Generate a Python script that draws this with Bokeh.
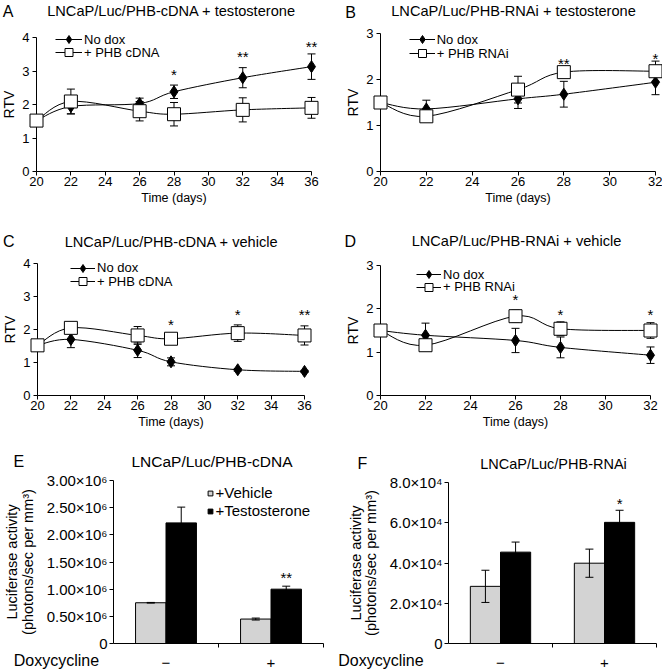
from bokeh.plotting import figure
from bokeh.models import (Range1d, FixedTicker, LinearAxis, Whisker, TeeHead,
                          ColumnDataSource, Label, Legend, LegendItem)
from bokeh.layouts import column, row
from bokeh.embed import file_html
from bokeh.resources import INLINE

FONT = "Liberation Sans"

# ---------------- data ----------------
# Panel A: LNCaP/Luc/PHB-cDNA + testosterone
a_days = [20, 22, 26, 28, 32, 36]
a_nodox = [1.52, 1.94, 2.03, 2.38, 2.80, 3.13]
a_nodox_err = [0, 0.22, 0.16, 0.20, 0.30, 0.38]
a_phb = [1.52, 2.09, 1.80, 1.71, 1.84, 1.90]
a_phb_err = [0, 0.37, 0.29, 0.35, 0.36, 0.31]
a_sig_days = [28, 32, 36]
a_sig_y = [2.98, 3.53, 3.82]
a_sig = ["*", "**", "**"]

# Panel B: LNCaP/Luc/PHB-RNAi + testosterone
b_days = [20, 22, 26, 28, 32]
b_nodox = [1.50, 1.36, 1.58, 1.68, 1.94]
b_nodox_err = [0, 0.19, 0.21, 0.28, 0.27]
b_phb = [1.50, 1.20, 1.78, 2.16, 2.18]
b_phb_err = [0, 0.10, 0.29, 0.12, 0.22]
b_sig_days = [28, 32]
b_sig_y = [2.42, 2.53]
b_sig = ["**", "*"]

# Panel C: LNCaP/Luc/PHB-cDNA + vehicle
c_days = [20, 22, 26, 28, 32, 36]
c_nodox = [1.52, 1.70, 1.37, 1.02, 0.78, 0.73]
c_nodox_err = [0, 0.25, 0.22, 0.12, 0.04, 0.03]
c_phb = [1.52, 2.05, 1.82, 1.72, 1.89, 1.82]
c_phb_err = [0, 0.08, 0.27, 0.12, 0.25, 0.29]
c_sig_days = [28, 32, 36]
c_sig_y = [2.24, 2.55, 2.55]
c_sig = ["*", "*", "**"]

# Panel D: LNCaP/Luc/PHB-RNAi + vehicle
d_days = [20, 22, 26, 28, 32]
d_nodox = [1.50, 1.39, 1.27, 1.11, 0.93]
d_nodox_err = [0, 0.28, 0.28, 0.24, 0.19]
d_phb = [1.50, 1.16, 1.83, 1.54, 1.50]
d_phb_err = [0, 0.05, 0.14, 0.16, 0.18]
d_sig_days = [26, 28, 32]
d_sig_y = [2.29, 1.93, 1.93]
d_sig = ["*", "*", "*"]

ticks_36 = [20, 22, 24, 26, 28, 30, 32, 34, 36]
ticks_32 = [20, 22, 24, 26, 28, 30, 32]
rtv_ticks_4 = [0, 1, 2, 3, 4]
rtv_ticks_3 = [0, 1, 2, 3]

# Panels E/F: luciferase activity
dox_levels = ["\u2212", "+"]
e_vehicle = [0.75e6, 0.45e6]
e_vehicle_err = [0.006e6, 0.018e6]
e_testo = [2.22e6, 1.00e6]
e_testo_err = [0.29e6, 0.055e6]
e_sig_y = [None, 1.27e6]
e_sig = ["", "**"]
e_yticks = [0, 500000, 1000000, 1500000, 2000000, 2500000, 3000000]
e_ylabels = ["0", "0.50\u00d710\u2076", "1.00\u00d710\u2076", "1.50\u00d710\u2076",
             "2.00\u00d710\u2076", "2.50\u00d710\u2076", "3.00\u00d710\u2076"]

f_vehicle = [2.84e4, 3.99e4]
f_vehicle_err = [0.8e4, 0.7e4]
f_testo = [4.54e4, 6.02e4]
f_testo_err = [0.5e4, 0.6e4]
f_sig_y = [None, 7.1e4]
f_sig = ["", "*"]
f_yticks = [0, 20000, 40000, 60000, 80000]
f_ylabels = ["0", "2.0\u00d710\u2074", "4.0\u00d710\u2074", "6.0\u00d710\u2074", "8.0\u00d710\u2074"]


# ---------------- helpers ----------------
def panel_fig(g, xmin, xmax, ymin, ymax):
    """Figure whose frame is the whole panel; the axis box sits at g's pixel box."""
    W, H, l, t, r, b = g["W"], g["H"], g["l"], g["t"], g["r"], g["b"]
    ppx = (r - l) / (xmax - xmin)
    ppy = (b - t) / (ymax - ymin)
    xr = (xmin - l / ppx, xmin + (W - l) / ppx)
    yr = (ymin - (H - b) / ppy, ymax + t / ppy)
    g.update(ppx=ppx, ppy=ppy, x0=xr[0], y1=yr[1])
    p = figure(width=W, height=H, x_range=Range1d(*xr), y_range=Range1d(*yr),
               output_backend="svg", toolbar_location=None, title=None,
               x_axis_type=None, y_axis_type=None,
               min_border_left=0, min_border_right=0, min_border_top=0,
               min_border_bottom=0)
    p.outline_line_color = None
    p.background_fill_color = "white"
    p.border_fill_color = "white"
    return p


def px(g, x, y):
    return g["x0"] + x / g["ppx"], g["y1"] - y / g["ppy"]


def add_text(p, x, y, text, size, align="center", baseline="middle", y_offset=0):
    p.add_layout(Label(x=x, y=y, text=text, text_font=FONT, text_font_size=size,
                       text_color="black", text_align=align, text_baseline=baseline,
                       y_offset=y_offset))


def style_axis(ax, tick_size, label_size):
    ax.axis_line_color = "black"
    ax.axis_line_width = 1
    ax.major_tick_line_color = "black"
    ax.major_tick_in = 0
    ax.major_tick_out = 4
    ax.minor_tick_line_color = None
    ax.major_label_text_font = FONT
    ax.major_label_text_font_size = tick_size
    ax.major_label_text_color = "black"
    ax.axis_label_text_font = FONT
    ax.axis_label_text_font_size = label_size
    ax.axis_label_text_color = "black"
    ax.axis_label_text_font_style = "normal"


def add_err(p, xs, ys, errs):
    pts = [(x, y, e) for x, y, e in zip(xs, ys, errs) if e > 0]
    src = ColumnDataSource(dict(x=[q[0] for q in pts],
                                upper=[q[1] + q[2] for q in pts],
                                lower=[q[1] - q[2] for q in pts]))
    p.add_layout(Whisker(source=src, base="x", upper="upper", lower="lower",
                         level="annotation", line_color="black", line_width=1,
                         upper_head=TeeHead(size=8, line_color="black", line_width=1),
                         lower_head=TeeHead(size=8, line_color="black", line_width=1)))


def smooth(xs, ys):
    n = len(xs)
    out = dict(x0=[], y0=[], x1=[], y1=[], cx0=[], cy0=[], cx1=[], cy1=[])
    for i in range(n - 1):
        ip, inx = max(i - 1, 0), min(i + 2, n - 1)
        out["x0"].append(xs[i]); out["y0"].append(ys[i])
        out["x1"].append(xs[i + 1]); out["y1"].append(ys[i + 1])
        out["cx0"].append(xs[i] + (xs[i + 1] - xs[ip]) / 6)
        out["cy0"].append(ys[i] + (ys[i + 1] - ys[ip]) / 6)
        out["cx1"].append(xs[i + 1] - (xs[inx] - xs[i]) / 6)
        out["cy1"].append(ys[i + 1] - (ys[inx] - ys[i]) / 6)
    return ColumnDataSource(out)


def add_legend(p, label, renderers, x, y, gw, gh, size, standoff):
    p.add_layout(Legend(items=[LegendItem(label=label, renderers=renderers)],
                        location=(x, y), glyph_width=gw, glyph_height=gh,
                        label_height=gh, label_standoff=standoff, padding=0,
                        margin=0, spacing=0, border_line_color=None,
                        background_fill_alpha=0, label_text_font=FONT,
                        label_text_font_size=size, label_text_color="black"))


def line_panel(g, days, nodox, nodox_err, phb, phb_err, sig_days, sig_y, sig,
               xticks, yticks, title, letter, phb_label):
    p = panel_fig(g, xticks[0], xticks[-1], yticks[0], yticks[-1])
    H = g["H"]

    xa = LinearAxis(ticker=FixedTicker(ticks=xticks), fixed_location=yticks[0],
                    bounds=(xticks[0], xticks[-1]), axis_label="Time (days)",
                    major_label_standoff=1, axis_label_standoff=2)
    style_axis(xa, "13px", "12.5px")
    p.add_layout(xa, "below")
    ya = LinearAxis(ticker=FixedTicker(ticks=yticks), fixed_location=xticks[0],
                    bounds=(yticks[0], yticks[-1]), axis_label="RTV",
                    major_label_standoff=3, axis_label_standoff=2)
    style_axis(ya, "13px", "14px")
    p.add_layout(ya, "left")

    l1 = p.bezier(x0="x0", y0="y0", x1="x1", y1="y1", cx0="cx0", cy0="cy0",
                  cx1="cx1", cy1="cy1", source=smooth(days, nodox),
                  line_color="black", line_width=1)
    l2 = p.bezier(x0="x0", y0="y0", x1="x1", y1="y1", cx0="cx0", cy0="cy0",
                  cx1="cx1", cy1="cy1", source=smooth(days, phb),
                  line_color="black", line_width=1)
    add_err(p, days, nodox, nodox_err)
    add_err(p, days, phb, phb_err)
    m1 = p.scatter(days, nodox, marker="diamond", size=12, fill_color="black",
                   line_color="black", line_width=1, level="overlay")
    m2 = p.scatter(days, phb, marker="square", size=13, fill_color="white",
                   line_color="black", line_width=1, level="overlay")
    for d, y, s in zip(sig_days, sig_y, sig):
        add_text(p, d, y, s, "15px", y_offset=-3)

    add_legend(p, "No dox", [l1, m1], g["leg_x"], H - g["leg_c"][0] - 10, g["gw"], 20, "13px", 2)
    add_legend(p, phb_label, [l2, m2], g["leg_x"], H - g["leg_c"][1] - 10, g["gw"], 20, "13px", 2)

    add_text(p, *px(g, *g["title"]), title, "14.6px")
    add_text(p, *px(g, *g["letter"]), letter, "16px")
    return p


def bar_panel(g, vehicle, vehicle_err, testo, testo_err, sig_y, sig, yticks, ylabels,
              title, title_size, letter, legend):
    ncat = len(dox_levels)
    p = panel_fig(g, 0, ncat, yticks[0], yticks[-1])
    H = g["H"]

    bw = 0.29
    centers = [i + 0.5 for i in range(ncat)]
    xv = [c - bw / 2 for c in centers]
    xt = [c + bw / 2 for c in centers]
    p.vbar(x=xv, top=vehicle, width=bw, bottom=0, fill_color="#d3d3d3",
           line_color="black", line_width=1)
    p.vbar(x=xt, top=testo, width=bw, bottom=0, fill_color="black",
           line_color="black", line_width=1)
    add_err(p, xv, vehicle, vehicle_err)
    add_err(p, xt, testo, testo_err)
    for x, y, s in zip(xt, sig_y, sig):
        if y is not None:
            add_text(p, x, y, s, "15px", y_offset=-3)

    xa = LinearAxis(ticker=FixedTicker(ticks=centers, minor_ticks=list(range(1, ncat + 1))),
                    fixed_location=yticks[0], bounds=(0, ncat),
                    major_label_overrides=dict(zip(centers, dox_levels)),
                    major_label_standoff=10)
    style_axis(xa, "15px", "15px")
    xa.major_tick_out = 0
    xa.minor_tick_line_color = "black"
    xa.minor_tick_in = 0
    xa.minor_tick_out = 4
    p.add_layout(xa, "below")
    ya = LinearAxis(ticker=FixedTicker(ticks=yticks), fixed_location=0,
                    bounds=(yticks[0], yticks[-1]),
                    major_label_overrides=dict(zip(yticks, ylabels)),
                    axis_label="Luciferase activity\n(photons/sec per mm\u00b3)",
                    major_label_standoff=2, axis_label_standoff=g["als"])
    style_axis(ya, "15px", "14.5px")
    ya.axis_label_text_line_height = 0.95
    p.add_layout(ya, "left")

    if legend:
        sv = p.scatter(xv, vehicle, marker="square", size=0, fill_color="#d3d3d3",
                       line_color="black", line_width=1)
        st = p.scatter(xt, testo, marker="square", size=0, fill_color="black",
                       line_color="black", line_width=1)
        add_legend(p, "+Vehicle", [sv], g["leg_x"], H - g["leg_c"][0] - 9, 12, 18, "15px", 0)
        add_legend(p, "+Testosterone", [st], g["leg_x"], H - g["leg_c"][1] - 9, 12, 18, "15px", 0)

    add_text(p, *px(g, *g["title"]), title, title_size)
    add_text(p, *px(g, *g["letter"]), letter, "16px")
    add_text(p, *px(g, *g["dox"]), "Doxycycline", "16px", align="left")
    return p


# ---------------- layout geometry (pixels, panel-local) ----------------
# l, t, r, b: pixel box of the axes (x min/max, y max/min)
GA = dict(W=331, H=215, l=36, t=37, r=311, b=171,
          title=(171, 10), letter=(7.5, 10.5), leg_x=55, leg_c=[39.3, 52.3], gw=27)
GB = dict(W=331, H=215, l=49, t=33, r=324, b=171,
          title=(182, 10), letter=(19, 11.5), leg_x=77.7, leg_c=[39.3, 53.3], gw=26)
GC = dict(W=331, H=217, l=37, t=48, r=304, b=180,
          title=(171, 26.7), letter=(8.3, 25.8), leg_x=70, leg_c=[52.7, 66], gw=25)
GD = dict(W=331, H=217, l=49, t=50, r=319, b=180,
          title=(185, 25), letter=(18.7, 26.2), leg_x=85, leg_c=[59.3, 71.7], gw=25)
GE = dict(W=331, H=238, l=113, t=48, r=323, b=211, als=8,
          title=(211.5, 28.7), letter=(18.3, 28.8), leg_x=203.5, leg_c=[60.7, 78.7],
          dox=(13.3, 228))
GF = dict(W=331, H=238, l=117, t=50, r=325, b=211, als=8,
          title=(222, 31.3), letter=(30.8, 31.3), dox=(6.7, 228))

pA = line_panel(GA, a_days, a_nodox, a_nodox_err, a_phb, a_phb_err, a_sig_days, a_sig_y,
                a_sig, ticks_36, rtv_ticks_4, "LNCaP/Luc/PHB-cDNA + testosterone", "A",
                "+ PHB cDNA")
pB = line_panel(GB, b_days, b_nodox, b_nodox_err, b_phb, b_phb_err, b_sig_days, b_sig_y,
                b_sig, ticks_32, rtv_ticks_3, "LNCaP/Luc/PHB-RNAi + testosterone", "B",
                "+ PHB RNAi")
pC = line_panel(GC, c_days, c_nodox, c_nodox_err, c_phb, c_phb_err, c_sig_days, c_sig_y,
                c_sig, ticks_36, rtv_ticks_4, "LNCaP/Luc/PHB-cDNA + vehicle", "C",
                "+ PHB cDNA")
pD = line_panel(GD, d_days, d_nodox, d_nodox_err, d_phb, d_phb_err, d_sig_days, d_sig_y,
                d_sig, ticks_32, rtv_ticks_3, "LNCaP/Luc/PHB-RNAi + vehicle", "D",
                "+ PHB RNAi")
pE = bar_panel(GE, e_vehicle, e_vehicle_err, e_testo, e_testo_err, e_sig_y, e_sig,
               e_yticks, e_ylabels, "LNCaP/Luc/PHB-cDNA", "15.5px", "E", True)
pF = bar_panel(GF, f_vehicle, f_vehicle_err, f_testo, f_testo_err, f_sig_y, f_sig,
               f_yticks, f_ylabels, "LNCaP/Luc/PHB-RNAi", "14.5px", "F", False)

layout = column(row(pA, pB, spacing=0), row(pC, pD, spacing=0), row(pE, pF, spacing=0),
                spacing=0)

open("out.html", "w").write(file_html(layout, INLINE))
